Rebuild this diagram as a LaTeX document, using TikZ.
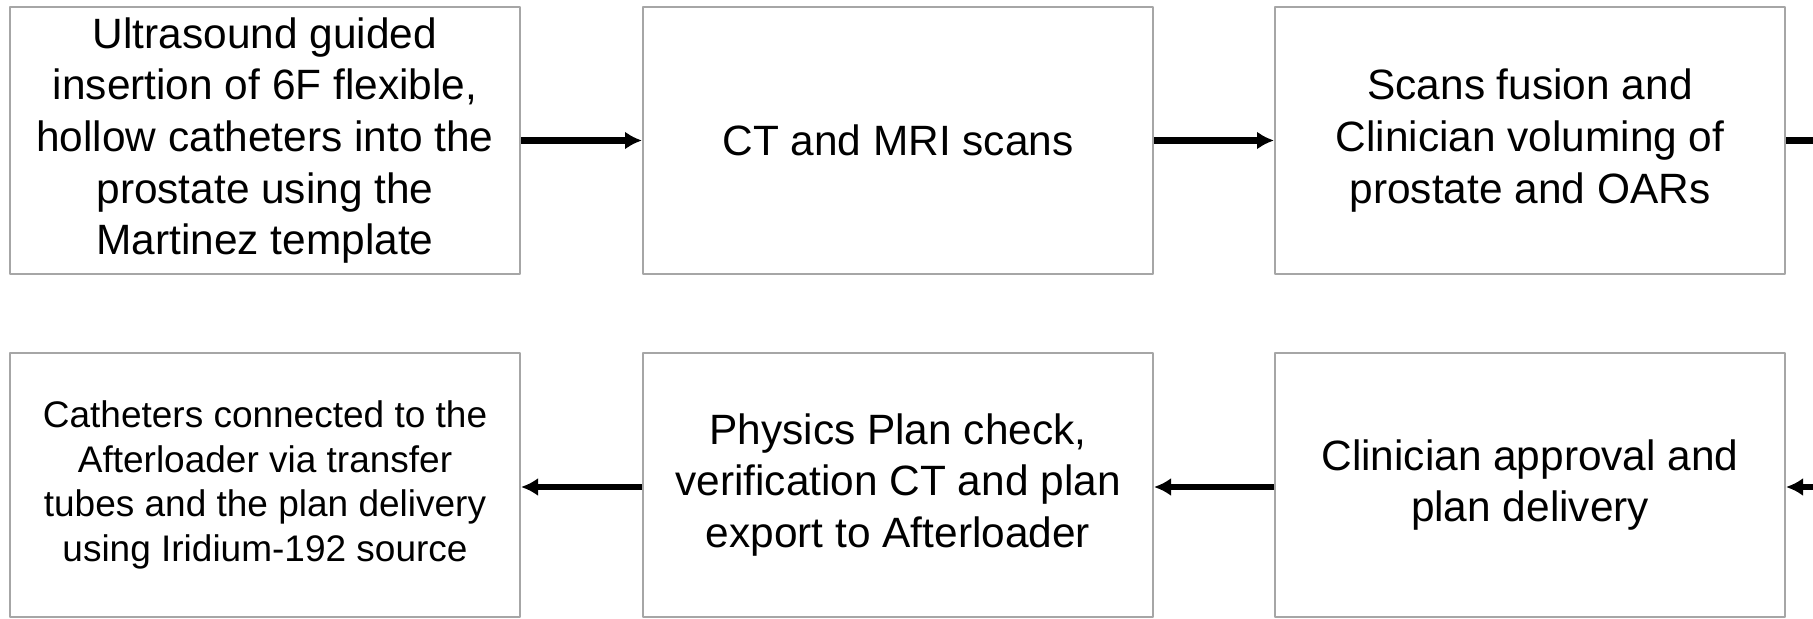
\documentclass[tikz,border=0pt]{standalone}
\usepackage{fontspec}
\setmainfont{Liberation Sans}
\usetikzlibrary{arrows.meta}
\begin{document}
\begin{tikzpicture}[x=0.5pt,y=-0.5pt,>={Latex[length=8.5pt,width=9pt]},line join=bevel,
  stage/.style={draw=black!35,line width=1pt,minimum width=255pt,minimum height=133.5pt,inner sep=0pt,align=center,font=\fontsize{21.2}{25.8}\selectfont},
  lowstage/.style={stage,minimum height=131.5pt},
  flow/.style={->,line width=3.2pt}]
\useasboundingbox (0,0) rectangle (1813,619);
\node[stage] (1) at (265,140.5) {Ultrasound guided\\insertion of 6F flexible,\\hollow catheters into the\\prostate using the\\Martinez template};
\node[stage] (2) at (898,140.5) {CT and MRI scans};
\node[stage] (3) at (1530,140.5) {Scans fusion and\\Clinician voluming of\\prostate and OARs};
\node[lowstage] (4) at (1530,485) {Clinician approval and\\plan delivery};
\node[lowstage] (5) at (898,485) {Physics Plan check,\\verification CT and plan\\export to Afterloader};
\node[lowstage,font=\fontsize{18.5}{22.3}\selectfont] (6) at (265,485) {Catheters connected to the\\Afterloader via transfer\\tubes and the plan delivery\\using Iridium-192 source};
\coordinate (out) at (1813,140.5);
\coordinate (in) at (1813,487);
\draw[flow] (1) -- (2);
\draw[flow] (2) -- (3);
\draw[line width=3.2pt] (3) -- (out);
\draw[flow] (in) -- (4.east|-in);
\draw[flow] (4.west|-in) -- (5.east|-in);
\draw[flow] (5.west|-in) -- (6.east|-in);
\end{tikzpicture}
\end{document}
